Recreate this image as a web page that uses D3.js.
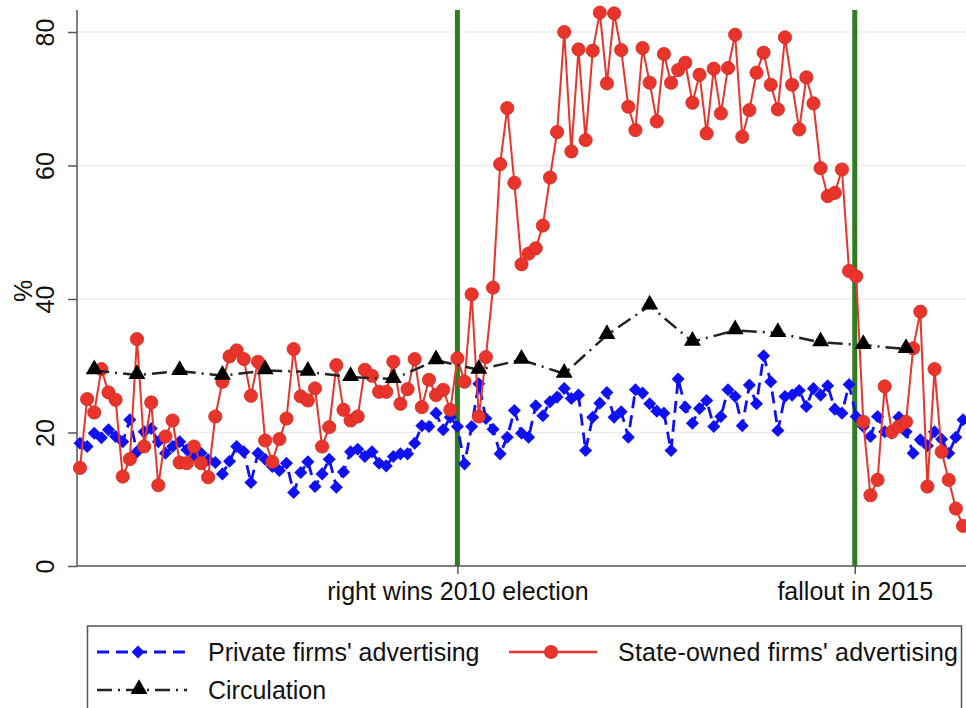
<!DOCTYPE html>
<html>
<head>
<meta charset="utf-8">
<script src="https://cdn.jsdelivr.net/npm/d3@7"></script>
<style>
  body { margin: 0; background: #fff; }
  svg { display: block; font-family: "Liberation Sans", Arial, sans-serif; }
</style>
</head>
<body>
<svg id="viz"></svg>
<script>
const width = 966, height = 708;

// monthly series, index 0 = first month shown
const stateAds = [
  14.7, 25.0, 23.0, 29.5, 26.0, 24.9, 13.4, 16.0, 34.0, 17.9,
  24.5, 12.1, 19.4, 21.8, 15.5, 15.4, 17.9, 15.4, 13.3, 22.4,
  27.6, 31.4, 32.3, 31.0, 25.5, 30.6, 18.8, 15.6, 19.0, 22.1,
  32.5, 25.4, 24.8, 26.6, 17.9, 20.8, 30.1, 23.4, 21.8, 22.4,
  29.4, 28.5, 26.1, 26.1, 30.6, 24.3, 26.5, 31.0, 23.8, 27.9,
  25.6, 26.4, 23.4, 31.1, 27.6, 40.7, 22.4, 31.3, 41.7, 60.2,
  68.6, 57.4, 45.2, 46.8, 47.6, 51.0, 58.2, 65.0, 80.0, 62.1,
  77.4, 63.8, 77.2, 82.9, 72.3, 82.8, 77.3, 68.8, 65.3, 77.6,
  72.4, 66.6, 76.7, 72.4, 74.3, 75.4, 69.4, 73.6, 64.8, 74.5,
  67.8, 74.6, 79.6, 64.3, 68.3, 73.9, 76.9, 72.1, 68.4, 79.2,
  72.1, 65.4, 73.2, 69.3, 59.6, 55.4, 55.9, 59.4, 44.2, 43.4,
  21.6, 10.6, 12.9, 26.9, 20.1, 20.9, 21.6, 32.6, 38.1, 11.9,
  29.5, 17.1, 12.9, 8.6, 6.0
];

const privateAds = [
  18.4, 17.9, 19.9, 19.2, 20.4, 19.4, 18.6, 21.9, 17.1, 20.1,
  20.6, 18.6, 16.9, 17.9, 18.6, 17.4, 16.6, 16.9, 15.9, 15.5,
  13.8, 15.7, 17.9, 17.1, 12.5, 16.9, 16.0, 14.9, 14.3, 15.4,
  11.0, 14.0, 15.6, 11.9, 13.8, 16.0, 11.8, 14.1, 17.1, 17.5,
  16.4, 17.1, 15.4, 15.0, 16.4, 16.8, 16.8, 18.4, 21.0, 20.9,
  22.9, 20.4, 22.3, 20.9, 15.3, 20.9, 27.3, 22.1, 20.5, 16.8,
  19.3, 23.3, 19.9, 19.3, 24.0, 22.5, 24.6, 25.3, 26.6, 25.1,
  25.6, 17.3, 22.3, 24.4, 26.0, 22.3, 23.1, 19.3, 26.4, 25.9,
  24.3, 23.2, 22.9, 17.3, 28.0, 23.8, 21.4, 23.6, 24.8, 20.9,
  22.4, 26.4, 25.4, 21.0, 27.1, 24.3, 31.5, 27.6, 20.3, 25.4,
  25.6, 26.3, 23.9, 26.6, 25.6, 27.0, 23.5, 22.9, 27.2, 22.4,
  20.9, 19.4, 22.4, 20.1, 19.9, 22.3, 20.1, 16.9, 18.9, 18.0,
  20.1, 19.0, 16.9, 19.3, 21.9
];

// circulation is observed every six months
const circMonths = [2, 8, 14, 20, 26, 32, 38, 44, 50, 56, 62, 68, 74, 80, 86, 92, 98, 104, 110, 116];
const circulation = [29.3, 28.6, 29.2, 28.5, 29.3, 29.1, 28.3, 28.0, 30.8, 29.4,
                     30.9, 28.8, 34.6, 39.0, 33.6, 35.3, 34.9, 33.5, 33.1, 32.5];

const eventLabels = ["right wins 2010 election", "fallout in 2015"];
const eventMonths = [53, 108.8];

const yTicks = [0, 20, 40, 60, 80];

const svg = d3.select("#viz")
  .attr("width", width)
  .attr("height", height);

const x = d3.scaleLinear().domain([0, 124]).range([80, 963]);
const y = d3.scaleLinear().domain([0, 80]).range([566, 32]);

const plotLeft = 77, plotBottom = 566, plotTop = 10;
const axisColor = "#555";

// gridlines
svg.append("g")
  .selectAll("line")
  .data(yTicks.filter(d => d > 0))
  .enter().append("line")
  .attr("x1", plotLeft).attr("x2", width)
  .attr("y1", d => y(d)).attr("y2", d => y(d))
  .attr("stroke", "#ececec")
  .attr("stroke-width", 1.5);

// event lines
svg.append("g")
  .selectAll("line")
  .data(eventMonths)
  .enter().append("line")
  .attr("x1", d => x(d)).attr("x2", d => x(d))
  .attr("y1", plotTop).attr("y2", plotBottom)
  .attr("stroke", "#2f7d1f")
  .attr("stroke-width", 5);

// y axis
const yAxis = svg.append("g")
  .attr("transform", "translate(" + plotLeft + ",0)")
  .call(d3.axisLeft(y).tickValues(yTicks).tickSize(9).tickPadding(0).tickFormat(d3.format("d")));
yAxis.select(".domain").remove();
yAxis.selectAll(".tick line").attr("stroke", axisColor).attr("stroke-width", 1.5);
yAxis.selectAll(".tick text")
  .attr("x", null).attr("dy", null)
  .attr("text-anchor", "middle")
  .attr("dominant-baseline", "central")
  .attr("transform", "translate(-32,0) rotate(-90)")
  .attr("font-size", 25)
  .attr("fill", "#111");
svg.append("line")
  .attr("x1", plotLeft).attr("x2", plotLeft)
  .attr("y1", plotTop).attr("y2", plotBottom)
  .attr("stroke", axisColor).attr("stroke-width", 1.5);

svg.append("text")
  .attr("transform", "translate(23,291) rotate(-90)")
  .attr("text-anchor", "middle")
  .attr("dominant-baseline", "central")
  .attr("font-size", 25)
  .attr("fill", "#111")
  .text("%");

// x axis
svg.append("line")
  .attr("x1", plotLeft).attr("x2", width)
  .attr("y1", plotBottom).attr("y2", plotBottom)
  .attr("stroke", axisColor).attr("stroke-width", 1.5);
const xAxis = svg.append("g")
  .attr("transform", "translate(0," + plotBottom + ")")
  .call(d3.axisBottom(x).tickValues(eventMonths).tickSize(8).tickPadding(0)
    .tickFormat((d, i) => eventLabels[i]));
xAxis.select(".domain").remove();
xAxis.selectAll(".tick line").attr("stroke", axisColor).attr("stroke-width", 1.5);
xAxis.selectAll(".tick text")
  .attr("y", 34).attr("dy", null)
  .attr("font-size", 25)
  .attr("fill", "#111");

// series
const blue = "#1010f5", red = "#e8342a";

const line = d3.line().x(d => x(d[0])).y(d => y(d[1]));

const privPts = privateAds.map((v, i) => [i, v]);
const statePts = stateAds.map((v, i) => [i, v]);
const circPts = circMonths.map((m, i) => [m, circulation[i]]);

svg.append("path")
  .attr("d", line(privPts))
  .attr("fill", "none")
  .attr("stroke", blue)
  .attr("stroke-width", 2.8)
  .attr("stroke-dasharray", "12,7");

const diamond = d3.symbol().type(d3.symbolSquare).size(85);
svg.append("g")
  .selectAll("path")
  .data(privPts)
  .enter().append("path")
  .attr("d", diamond)
  .attr("fill", blue)
  .attr("transform", d => "translate(" + x(d[0]) + "," + y(d[1]) + ") rotate(45)");

svg.append("path")
  .attr("d", line(statePts))
  .attr("fill", "none")
  .attr("stroke", red)
  .attr("stroke-width", 2);

svg.append("g")
  .selectAll("circle")
  .data(statePts)
  .enter().append("circle")
  .attr("cx", d => x(d[0]))
  .attr("cy", d => y(d[1]))
  .attr("r", 6.6)
  .attr("fill", red)
  .attr("stroke", "#d42a20")
  .attr("stroke-width", 0.8);

svg.append("path")
  .attr("d", line(circPts))
  .attr("fill", "none")
  .attr("stroke", "#222")
  .attr("stroke-width", 2.5)
  .attr("stroke-dasharray", "15,6,2,6");

const tri = d3.symbol().type(d3.symbolTriangle).size(125);
svg.append("g")
  .selectAll("path")
  .data(circPts)
  .enter().append("path")
  .attr("d", tri)
  .attr("fill", "#000")
  .attr("transform", d => "translate(" + x(d[0]) + "," + (y(d[1]) - 1) + ")");

// legend
const legend = svg.append("g");
legend.append("rect")
  .attr("x", 87.5).attr("y", 626)
  .attr("width", 874).attr("height", 120)
  .attr("fill", "#fff")
  .attr("stroke", axisColor)
  .attr("stroke-width", 1.5);

const legendItems = [
  { label: "Private firms' advertising", x0: 97, x1: 187, y: 652, color: blue, dash: "12,7", w: 2.8, mark: "diamond" },
  { label: "State-owned firms' advertising", x0: 509, x1: 597, y: 652, color: red, dash: null, w: 2.5, mark: "circle" },
  { label: "Circulation", x0: 97, x1: 187, y: 690, color: "#222", dash: "15,6,2,6", w: 2.5, mark: "triangle" }
];

legendItems.forEach(function(it) {
  legend.append("line")
    .attr("x1", it.x0).attr("x2", it.x1)
    .attr("y1", it.y).attr("y2", it.y)
    .attr("stroke", it.color)
    .attr("stroke-width", it.w)
    .attr("stroke-dasharray", it.dash);
  const cx = (it.x0 + it.x1) / 2 - 3;
  if (it.mark === "circle") {
    legend.append("circle").attr("cx", cx + 1).attr("cy", it.y).attr("r", 7).attr("fill", red);
  } else if (it.mark === "diamond") {
    legend.append("path").attr("d", diamond).attr("fill", blue)
      .attr("transform", "translate(" + (cx - 1) + "," + it.y + ") rotate(45)");
  } else {
    legend.append("path").attr("d", tri).attr("fill", "#000")
      .attr("transform", "translate(" + cx + "," + (it.y - 1) + ")");
  }
  legend.append("text")
    .attr("x", it.x1 + 21)
    .attr("y", it.y)
    .attr("dominant-baseline", "central")
    .attr("font-size", 25)
    .attr("textLength", it.mark === "circle" ? 340 : null)
    .attr("fill", "#111")
    .text(it.label);
});
</script>
</body>
</html>
